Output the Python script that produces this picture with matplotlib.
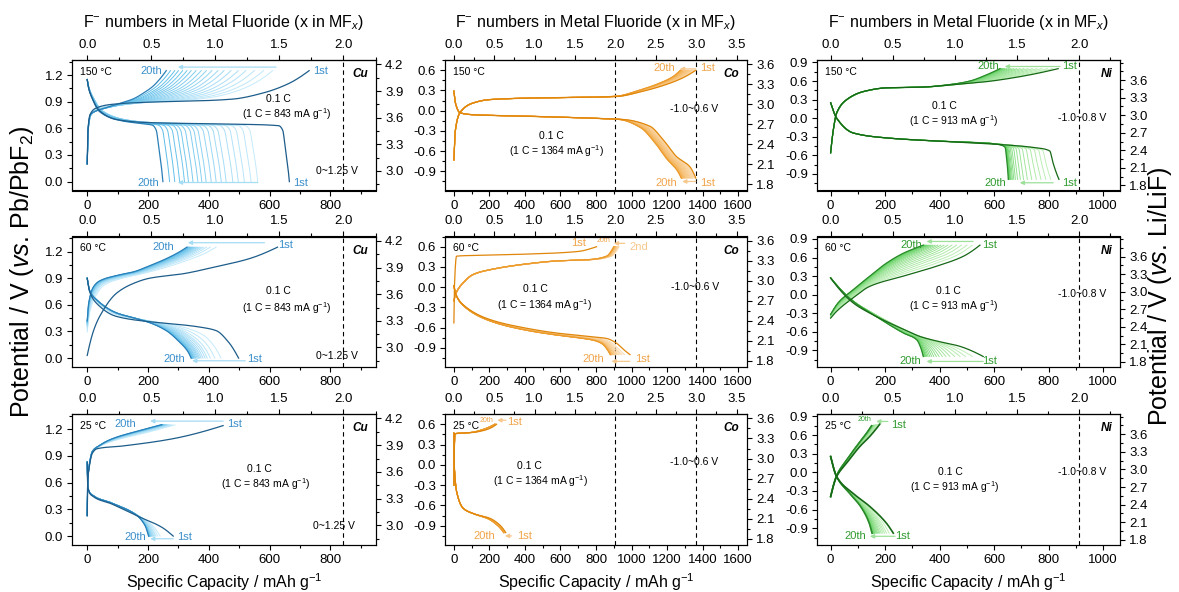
import numpy as np
import matplotlib
matplotlib.use("Agg")
import matplotlib.pyplot as plt
from matplotlib.ticker import AutoMinorLocator
from matplotlib.colors import to_rgb

plt.rcParams['font.family'] = ['Liberation Sans', 'DejaVu Sans']
plt.rcParams['mathtext.fontset'] = 'custom'
plt.rcParams['mathtext.rm'] = 'Liberation Sans'
plt.rcParams['mathtext.it'] = 'Liberation Sans:italic'
plt.rcParams['mathtext.bf'] = 'Liberation Sans:bold'
plt.rcParams['axes.unicode_minus'] = False

# ---------------- DATA (capacity mAh/g, potential V vs Pb/PbF2) ----------------
# Cu 150 C
cu150_c1_x = [0, 3, 10, 30, 80, 200, 370, 480, 580, 660, 730]
cu150_c1_v = [0.20, 0.60, 0.76, 0.83, 0.87, 0.895, 0.91, 0.93, 1.00, 1.10, 1.25]
cu150_c20_x = [0, 3, 10, 25, 50, 95, 150, 195, 215, 235, 260]
cu150_c20_v = [0.20, 0.60, 0.75, 0.79, 0.82, 0.87, 0.93, 1.02, 1.07, 1.14, 1.25]
cu150_d1_x = [0, 5, 15, 40, 95, 200, 480, 630, 643, 651, 659, 665]
cu150_d1_v = [1.15, 1.05, 0.95, 0.80, 0.70, 0.665, 0.647, 0.63, 0.58, 0.40, 0.20, 0.0]
cu150_d20_x = [0, 5, 15, 40, 95, 140, 180, 215, 227, 235, 243, 249]
cu150_d20_v = [1.15, 1.05, 0.95, 0.79, 0.70, 0.67, 0.655, 0.635, 0.58, 0.40, 0.20, 0.0]
cu150_chg_end = [730, 610, 580, 550, 522, 497, 473, 450, 430, 410, 392, 375, 358, 342, 328, 314, 300, 288, 274, 260]
cu150_dis_end = [665, 561, 539, 517, 497, 479, 457, 441, 424, 408, 391, 377, 364, 348, 333, 320, 304, 288, 271, 249]

# Cu 60 C
cu60_c1_x = [0, 20, 41, 96, 151, 205, 315, 424, 533, 626]
cu60_c1_v = [0.03, 0.30, 0.47, 0.73, 0.84, 0.90, 0.95, 1.03, 1.12, 1.25]
cu60_c20_x = [0, 5, 20, 41, 96, 151, 205, 260, 300, 328]
cu60_c20_v = [0.42, 0.62, 0.80, 0.87, 0.93, 0.97, 1.04, 1.12, 1.19, 1.25]
cu60_d1_x = [0, 8, 30, 96, 205, 300, 370, 424, 465, 498]
cu60_d1_v = [0.90, 0.75, 0.62, 0.47, 0.41, 0.38, 0.35, 0.31, 0.18, 0.0]
cu60_d20_x = [0, 8, 30, 96, 151, 205, 260, 304, 330, 342]
cu60_d20_v = [0.90, 0.76, 0.66, 0.51, 0.455, 0.40, 0.31, 0.18, 0.08, 0.0]
cu60_chg_end = [626, 424, 405, 392, 382, 375, 369, 364, 360, 356, 352, 349, 346, 343, 340, 337, 335, 333, 331, 328]
cu60_dis_end = [498, 440, 420, 405, 395, 388, 381, 375, 370, 366, 362, 358, 355, 352, 350, 348, 346, 345, 343, 342]

# Cu 25 C
cu25_c1_x = [0, 1, 2, 6, 17, 32, 114, 278, 447]
cu25_c1_v = [0.23, 0.50, 0.62, 0.76, 0.93, 0.98, 1.01, 1.09, 1.24]
cu25_c20_x = [0, 1, 2, 6, 17, 37, 81, 168, 245]
cu25_c20_v = [0.23, 0.50, 0.62, 0.78, 0.95, 1.01, 1.09, 1.18, 1.25]
cu25_d1_x = [0, 1, 2, 17, 81, 168, 245, 283]
cu25_d1_v = [0.83, 0.65, 0.55, 0.45, 0.36, 0.22, 0.10, 0.0]
cu25_d20_x = [0, 1, 2, 17, 81, 160, 190, 202]
cu25_d20_v = [0.83, 0.65, 0.55, 0.46, 0.37, 0.24, 0.12, 0.0]
cu25_chg_end = [447, 289, 280, 274, 270, 266, 263, 261, 259, 257, 255, 253, 252, 251, 250, 249, 248, 247, 246, 245]
cu25_dis_end = [283, 240, 232, 226, 222, 219, 216, 214, 212, 210, 209, 208, 207, 206, 205, 204, 204, 203, 203, 202]

# Co 150 C
co150_c1_x = [0, 8, 34, 109, 203, 484, 765, 915, 1066, 1197, 1291, 1362]
co150_c1_v = [-0.73, -0.30, -0.03, 0.115, 0.165, 0.19, 0.20, 0.21, 0.29, 0.39, 0.49, 0.60]
co150_c20_x = [0, 8, 34, 109, 203, 484, 765, 915, 1040, 1150, 1230, 1275]
co150_c20_v = [-0.73, -0.30, -0.03, 0.115, 0.165, 0.19, 0.20, 0.215, 0.30, 0.40, 0.50, 0.60]
co150_d1_x = [0, 10, 34, 109, 391, 765, 953, 1103, 1178, 1253, 1328, 1362]
co150_d1_v = [0.29, 0.10, -0.03, -0.06, -0.08, -0.11, -0.13, -0.23, -0.43, -0.68, -0.83, -1.0]
co150_d20_x = [0, 10, 34, 109, 391, 765, 930, 1050, 1130, 1200, 1255, 1280]
co150_d20_v = [0.29, 0.10, -0.03, -0.06, -0.08, -0.11, -0.13, -0.25, -0.47, -0.72, -0.88, -1.0]
co150_chg_end = [1362, 1356, 1350, 1345, 1340, 1335, 1330, 1325, 1320, 1315, 1310, 1305, 1300, 1296, 1292, 1288, 1284, 1280, 1277, 1275]
co150_dis_end = [1362, 1357, 1352, 1347, 1342, 1337, 1332, 1327, 1322, 1317, 1312, 1307, 1302, 1298, 1294, 1290, 1287, 1284, 1282, 1280]

# Co 60 C (1st charge differs in shape from 2nd-20th)
co60_c1_x = [0, 3, 15, 100, 400, 700, 803]
co60_c1_v = [-0.53, 0.0, 0.46, 0.47, 0.49, 0.53, 0.60]
co60_c20_x = [0, 10, 52, 109, 203, 391, 578, 765, 859, 900]
co60_c20_v = [-0.20, -0.10, 0.065, 0.19, 0.26, 0.34, 0.39, 0.41, 0.46, 0.60]
co60_d1_x = [0, 10, 52, 203, 391, 578, 765, 859, 915, 953, 991]
co60_d1_v = [0.02, -0.10, -0.26, -0.48, -0.60, -0.68, -0.73, -0.76, -0.83, -0.92, -1.0]
co60_d20_x = [0, 10, 52, 203, 391, 578, 700, 790, 835, 862, 880]
co60_d20_v = [0.02, -0.10, -0.27, -0.50, -0.63, -0.71, -0.75, -0.79, -0.84, -0.92, -1.0]
co60_chg_end = [803, 930, 926, 923, 920, 918, 916, 914, 912, 911, 910, 909, 908, 907, 906, 905, 904, 903, 902, 900]
co60_dis_end = [991, 960, 945, 935, 925, 918, 912, 906, 902, 898, 895, 892, 890, 888, 886, 884, 883, 882, 881, 880]

# Co 25 C
co25_c1_x = [0, 2, 6, 50, 109, 170, 203, 240]
co25_c1_v = [-0.30, 0.20, 0.46, 0.47, 0.48, 0.51, 0.54, 0.60]
co25_c20_x = [0, 2, 6, 50, 100, 160, 200, 230]
co25_c20_v = [-0.30, 0.20, 0.46, 0.47, 0.48, 0.52, 0.56, 0.60]
co25_d1_x = [0, 1, 4, 15, 52, 109, 203, 259, 287, 292]
co25_d1_v = [0.47, 0.10, -0.10, -0.39, -0.64, -0.72, -0.79, -0.89, -0.98, -1.0]
co25_d20_x = [0, 1, 4, 15, 52, 109, 195, 248, 275, 280]
co25_d20_v = [0.47, 0.10, -0.10, -0.39, -0.64, -0.72, -0.80, -0.90, -0.98, -1.0]
co25_chg_end = [240, 238, 237, 236, 235, 234, 234, 233, 233, 232, 232, 231, 231, 231, 230, 230, 230, 230, 230, 230]
co25_dis_end = [292, 291, 290, 289, 288, 287, 286, 286, 285, 284, 284, 283, 283, 282, 282, 281, 281, 281, 280, 280]

# Ni 150 C
ni150_c1_x = [0, 10, 22, 59, 120, 205, 328, 450, 572, 694, 835]
ni150_c1_v = [-0.56, -0.185, 0.083, 0.30, 0.43, 0.49, 0.50, 0.54, 0.59, 0.67, 0.80]
ni150_c20_x = [0, 10, 22, 59, 120, 205, 328, 450, 511, 572, 621]
ni150_c20_v = [-0.56, -0.185, 0.083, 0.30, 0.43, 0.49, 0.50, 0.55, 0.60, 0.70, 0.80]
ni150_d1_x = [0, 22, 83, 205, 389, 633, 755, 804, 816, 828, 838]
ni150_d1_v = [0.25, 0.0, -0.24, -0.32, -0.37, -0.43, -0.48, -0.53, -0.72, -0.88, -0.99]
ni150_d20_x = [0, 22, 83, 205, 389, 560, 609, 640, 646, 650, 652]
ni150_d20_v = [0.25, 0.0, -0.24, -0.32, -0.37, -0.40, -0.42, -0.47, -0.66, -0.85, -0.99]
ni150_chg_end = [835, 815, 795, 775, 757, 740, 724, 709, 695, 683, 672, 662, 653, 645, 639, 634, 630, 627, 624, 621]
ni150_dis_end = [838, 808, 790, 772, 755, 738, 722, 708, 696, 686, 678, 672, 667, 663, 660, 658, 656, 655, 654, 652]

# Ni 60 C
ni60_c1_x = [0, 22, 83, 144, 267, 389, 487, 548]
ni60_c1_v = [-0.38, -0.27, -0.05, 0.135, 0.30, 0.46, 0.62, 0.80]
ni60_c20_x = [0, 30, 83, 144, 205, 267, 310, 340]
ni60_c20_v = [-0.32, -0.12, 0.08, 0.30, 0.51, 0.67, 0.75, 0.80]
ni60_d1_x = [0, 83, 144, 267, 330, 389, 470, 560]
ni60_d1_v = [0.27, -0.135, -0.30, -0.56, -0.68, -0.75, -0.83, -1.0]
ni60_d20_x = [0, 83, 144, 205, 267, 316, 330, 340]
ni60_d20_v = [0.27, -0.11, -0.29, -0.46, -0.62, -0.73, -0.85, -1.0]
ni60_chg_end = [548, 520, 500, 480, 462, 445, 430, 416, 404, 393, 383, 375, 368, 362, 357, 352, 348, 345, 342, 340]
ni60_dis_end = [560, 520, 495, 475, 455, 438, 423, 410, 398, 388, 379, 371, 364, 358, 353, 349, 346, 343, 341, 340]

# Ni 25 C
ni25_c1_x = [0, 22, 59, 108, 144, 181]
ni25_c1_v = [-0.39, -0.07, 0.15, 0.42, 0.58, 0.78]
ni25_c20_x = [0, 22, 59, 100, 130, 150]
ni25_c20_v = [-0.39, -0.05, 0.20, 0.45, 0.62, 0.75]
ni25_d1_x = [0, 22, 83, 144, 205, 230]
ni25_d1_v = [0.255, -0.07, -0.34, -0.55, -0.82, -0.98]
ni25_d20_x = [0, 22, 70, 110, 140, 152]
ni25_d20_v = [0.255, -0.07, -0.34, -0.55, -0.80, -0.98]
ni25_chg_end = [181, 176, 172, 169, 166, 164, 162, 160, 158, 157, 156, 155, 154, 153, 152, 152, 151, 151, 150, 150]
ni25_dis_end = [230, 215, 205, 198, 192, 186, 181, 177, 173, 170, 167, 164, 162, 160, 158, 156, 155, 154, 153, 152]

metals = ['Cu', 'Co', 'Ni']
temps = ['150 °C', '60 °C', '25 °C']
theo_capacity = [843, 1364, 913]          # 1 C values, mAh/g
max_fluoride = [2.0, 3.0, 2.0]
voltage_window = ['0~1.25 V', '-1.0~0.6 V', '-1.0~0.8 V']

# ---------------- helpers ----------------
def pchip(x, y, xn):
    x = np.asarray(x, float); y = np.asarray(y, float)
    h = np.diff(x); d = np.diff(y) / h
    n = len(x)
    m = np.zeros(n)
    for i in range(1, n - 1):
        if d[i - 1] * d[i] > 0:
            w1 = 2 * h[i] + h[i - 1]; w2 = h[i] + 2 * h[i - 1]
            m[i] = (w1 + w2) / (w1 / d[i - 1] + w2 / d[i])

    def end(h0, h1, d0, d1):
        s = ((2 * h0 + h1) * d0 - h0 * d1) / (h0 + h1)
        if np.sign(s) != np.sign(d0):
            s = 0.0
        elif np.sign(d0) != np.sign(d1) and abs(s) > 3 * abs(d0):
            s = 3 * d0
        return s
    if n > 2:
        m[0] = end(h[0], h[1], d[0], d[1])
        m[-1] = end(h[-1], h[-2], d[-1], d[-2])
    else:
        m[0] = m[-1] = d[0]
    idx = np.clip(np.searchsorted(x, xn) - 1, 0, n - 2)
    t = (xn - x[idx]) / h[idx]
    h00 = 2 * t**3 - 3 * t**2 + 1
    h10 = t**3 - 2 * t**2 + t
    h01 = -2 * t**3 + 3 * t**2
    h11 = t**3 - t**2
    return h00 * y[idx] + h10 * h[idx] * m[idx] + h01 * y[idx + 1] + h11 * h[idx] * m[idx + 1]


SGRID = np.unique(np.concatenate([np.linspace(0, 0.03, 150), np.linspace(0.03, 0.95, 500),
                                  np.linspace(0.95, 1, 150)]))


def cycles(c1x, c1v, c20x, c20v, ends, distinct=False):
    E1, E20 = ends[0], ends[-1]
    s1 = np.array(c1x, float) / c1x[-1]
    s20 = np.array(c20x, float) / c20x[-1]
    v1 = np.array(c1v, float); v20 = np.array(c20v, float)
    out = []
    for k, E in enumerate(ends):
        if k == 0:
            sx, sv = s1, v1
        elif k == len(ends) - 1 or distinct:
            sx, sv = s20, v20
        else:
            w = np.clip((E1 - E) / (E1 - E20), 0, 1) if E1 != E20 else k / (len(ends) - 1)
            sx = (1 - w) * s1 + w * s20
            sv = (1 - w) * v1 + w * v20
        out.append((SGRID * E, pchip(sx, sv, SGRID)))
    return out


def mix(c1, c2, t):
    a = np.array(to_rgb(c1)); b = np.array(to_rgb(c2))
    return tuple(a + (b - a) * t)


def fmt(vals):
    return [f'{(round(v, 1) + 0.0):.1f}' for v in vals]


palette = {
    'Cu': dict(first='#1d5d8b', last='#2a7fb8', light='#c4eafb', mid='#5dbde9', label='#3a8fcb', arrow='#a6dcf4'),
    'Co': dict(first='#e0860a', last='#ec9a2a', light='#fbd9ab', mid='#f3ae4c', label='#f0a44a', arrow='#f7c88e'),
    'Ni': dict(first='#166816', last='#2a8a2a', light='#c0f0b8', mid='#5fcf5f', label='#2f9a2f', arrow='#9ee09a'),
}

panel_data = {
    ('Cu', 0): (cu150_c1_x, cu150_c1_v, cu150_c20_x, cu150_c20_v, cu150_chg_end,
                cu150_d1_x, cu150_d1_v, cu150_d20_x, cu150_d20_v, cu150_dis_end, False),
    ('Cu', 1): (cu60_c1_x, cu60_c1_v, cu60_c20_x, cu60_c20_v, cu60_chg_end,
                cu60_d1_x, cu60_d1_v, cu60_d20_x, cu60_d20_v, cu60_dis_end, False),
    ('Cu', 2): (cu25_c1_x, cu25_c1_v, cu25_c20_x, cu25_c20_v, cu25_chg_end,
                cu25_d1_x, cu25_d1_v, cu25_d20_x, cu25_d20_v, cu25_dis_end, False),
    ('Co', 0): (co150_c1_x, co150_c1_v, co150_c20_x, co150_c20_v, co150_chg_end,
                co150_d1_x, co150_d1_v, co150_d20_x, co150_d20_v, co150_dis_end, False),
    ('Co', 1): (co60_c1_x, co60_c1_v, co60_c20_x, co60_c20_v, co60_chg_end,
                co60_d1_x, co60_d1_v, co60_d20_x, co60_d20_v, co60_dis_end, True),
    ('Co', 2): (co25_c1_x, co25_c1_v, co25_c20_x, co25_c20_v, co25_chg_end,
                co25_d1_x, co25_d1_v, co25_d20_x, co25_d20_v, co25_dis_end, False),
    ('Ni', 0): (ni150_c1_x, ni150_c1_v, ni150_c20_x, ni150_c20_v, ni150_chg_end,
                ni150_d1_x, ni150_d1_v, ni150_d20_x, ni150_d20_v, ni150_dis_end, False),
    ('Ni', 1): (ni60_c1_x, ni60_c1_v, ni60_c20_x, ni60_c20_v, ni60_chg_end,
                ni60_d1_x, ni60_d1_v, ni60_d20_x, ni60_d20_v, ni60_dis_end, False),
    ('Ni', 2): (ni25_c1_x, ni25_c1_v, ni25_c20_x, ni25_c20_v, ni25_chg_end,
                ni25_d1_x, ni25_d1_v, ni25_d20_x, ni25_d20_v, ni25_dis_end, False),
}

# ---------------- layout ----------------
W, H = 1179, 592
fig = plt.figure(figsize=(W / 100, H / 100), dpi=100)
col_px = [(72, 376), (445, 747), (817, 1120)]
row_px = [(60, 190.5), (236.5, 367), (414, 545)]

xlims = {'Cu': (-50, 950), 'Co': (-50, 1650), 'Ni': (-50, 1062)}
xmax_tick = {'Cu': 800, 'Co': 1600, 'Ni': 1000}
top_ticks = {'Cu': np.arange(0, 2.01, 0.5), 'Co': np.arange(0, 3.51, 0.5), 'Ni': np.arange(0, 2.01, 0.5)}
ylims = {'Cu': (-0.10, 1.37), 'Co': (-1.184, 0.752), 'Ni': (-1.17, 0.94)}
yticks = {'Cu': np.arange(0, 1.21, 0.3), 'Co': np.arange(-0.9, 0.61, 0.3), 'Ni': np.arange(-0.9, 0.91, 0.3)}
rlims = {'Cu': (2.78, 4.25), 'Co': (1.71, 3.665), 'Ni': (1.714, 3.943)}
rticks = {'Cu': np.arange(3.0, 4.21, 0.3), 'Co': np.arange(1.8, 3.61, 0.3), 'Ni': np.arange(1.8, 3.61, 0.3)}

text_pos = {
    ('Cu', 0): [(0.679, 0.70), (0.706, 0.585), (0.871, 0.148)],
    ('Cu', 1): [(0.679, 0.579), (0.706, 0.454), (0.871, 0.085)],
    ('Cu', 2): [(0.618, 0.578), (0.637, 0.463), (0.86, 0.145)],
    ('Co', 0): [(0.354, 0.418), (0.370, 0.302), (0.826, 0.623)],
    ('Co', 1): [(0.298, 0.60), (0.331, 0.477), (0.828, 0.613)],
    ('Co', 2): [(0.281, 0.603), (0.315, 0.49), (0.826, 0.63)],
    ('Ni', 0): [(0.422, 0.648), (0.45, 0.533), (0.874, 0.559)],
    ('Ni', 1): [(0.433, 0.585), (0.45, 0.464), (0.874, 0.559)],
    ('Ni', 2): [(0.439, 0.56), (0.455, 0.445), (0.874, 0.56)],
}

cyc_labels = {
    ('Cu', 0): [('20th', 211, 1.245, 8), ('1st', 768, 1.245, 8), ('20th', 200, -0.01, 8), ('1st', 703, -0.01, 8)],
    ('Cu', 1): [('20th', 249, 1.25, 8), ('1st', 654, 1.27, 8), ('20th', 288, -0.01, 8), ('1st', 550, -0.01, 8)],
    ('Cu', 2): [('20th', 125, 1.256, 8), ('1st', 485, 1.256, 8), ('20th', 157, -0.01, 8), ('1st', 321, -0.01, 8)],
    ('Co', 0): [('20th', 1187, 0.635, 8), ('1st', 1426, 0.635, 8), ('20th', 1197, -1.07, 8), ('1st', 1426, -1.07, 8)],
    ('Co', 1): [('1st', 700, 0.65, 8), ('20th', 840, 0.69, 5), ('20th', 784, -1.07, 8), ('1st', 1060, -1.07, 8)],
    ('Co', 2): [('20th', 184, 0.66, 5), ('1st', 343, 0.64, 8), ('20th', 174, -1.05, 8), ('1st', 400, -1.05, 8)],
    ('Ni', 0): [('20th', 578, 0.835, 8), ('1st', 878, 0.835, 8), ('20th', 603, -1.045, 8), ('1st', 878, -1.045, 8)],
    ('Ni', 1): [('20th', 297, 0.81, 8), ('1st', 584, 0.81, 8), ('20th', 291, -1.08, 8), ('1st', 584, -1.08, 8)],
    ('Ni', 2): [('20th', 126, 0.85, 5), ('1st', 248, 0.77, 8), ('20th', 89, -1.03, 8), ('1st', 264, -1.03, 8)],
}
cyc_arrows = {
    ('Cu', 0): [(621, 298, 1.29), (561, 298, -0.01)],
    ('Cu', 1): [(583, 331, 1.30), (520, 345, -0.03)],
    ('Cu', 2): [(447, 207, 1.29), (283, 207, -0.03)],
    ('Co', 0): [(1362, 1272, 0.62), (1362, 1285, -1.05)],
    ('Co', 1): [(962, 900, 0.65), (990, 887, -1.10)],
    ('Co', 2): [(293, 244, 0.66), (325, 287, -1.05)],
    ('Ni', 0): [(842, 639, 0.835), (817, 694, -1.045)],
    ('Ni', 1): [(523, 352, 0.86), (560, 352, -1.08)],
    ('Ni', 2): [(210, 167, 0.82), (236, 144, -1.03)],
}

TICK_FS = 9.5
for ci, metal in enumerate(metals):
    pal = palette[metal]
    ref = theo_capacity[ci] / max_fluoride[ci]
    for ri in range(3):
        x0, x1 = col_px[ci]
        y0, y1 = row_px[ri]
        ax = fig.add_axes([x0 / W, 1 - y1 / H, (x1 - x0) / W, (y1 - y0) / H])
        (c1x, c1v, c20x, c20v, cend, d1x, d1v, d20x, d20v, dend, distinct) = panel_data[(metal, ri)]
        lw_main = 1.2 if (metal == 'Ni' and ri == 2) else 0.9
        for curves in (cycles(c1x, c1v, c20x, c20v, cend, distinct),
                       cycles(d1x, d1v, d20x, d20v, dend, False)):
            n = len(curves)
            for k in range(1, n - 1):
                t = (k - 1) / max(n - 3, 1)
                ax.plot(curves[k][0], curves[k][1], color=mix(pal['light'], pal['mid'], t), lw=0.7, zorder=2)
            ax.plot(curves[-1][0], curves[-1][1], color=pal['last'], lw=lw_main, zorder=3)
            ax.plot(curves[0][0], curves[0][1], color=pal['first'], lw=lw_main, zorder=4)

        ax.axvline(theo_capacity[ci] * 2.0 / max_fluoride[ci], color='k', ls=(0, (4, 3)), lw=0.8, zorder=1)
        if metal == 'Co':
            ax.axvline(theo_capacity[ci], color='k', ls=(0, (4, 3)), lw=0.8, zorder=1)

        ax.set_xlim(*xlims[metal])
        ax.set_ylim(*ylims[metal])
        ax.set_xticks(np.arange(0, xmax_tick[metal] + 1, 200))
        ax.xaxis.set_minor_locator(AutoMinorLocator(2))
        ax.set_yticks(yticks[metal])
        ax.set_yticklabels(fmt(yticks[metal]))
        ax.yaxis.set_minor_locator(AutoMinorLocator(2))
        ax.tick_params(which='both', direction='out', labelsize=TICK_FS, pad=3, width=0.8)
        ax.tick_params(which='major', length=3.5)
        ax.tick_params(which='minor', length=2)
        for sp in ax.spines.values():
            sp.set_linewidth(0.8)

        sec = ax.secondary_xaxis('top', functions=(lambda x, r=ref: x / r, lambda x, r=ref: x * r))
        sec.set_xticks(top_ticks[metal])
        sec.set_xticklabels(fmt(top_ticks[metal]))
        sec.xaxis.set_minor_locator(AutoMinorLocator(2))
        sec.tick_params(which='both', direction='out', labelsize=TICK_FS, pad=3, width=0.8)
        sec.tick_params(which='major', length=3.5)
        sec.tick_params(which='minor', length=2)

        tw = ax.twinx()
        tw.set_ylim(*rlims[metal])
        tw.set_yticks(rticks[metal])
        tw.set_yticklabels(fmt(rticks[metal]))
        tw.yaxis.set_minor_locator(AutoMinorLocator(2))
        tw.tick_params(which='both', direction='out', labelsize=TICK_FS, pad=3, width=0.8)
        tw.tick_params(which='major', length=3.5)
        tw.tick_params(which='minor', length=2)
        for sp in tw.spines.values():
            sp.set_linewidth(0.8)

        ax.text(0.025, 0.91, temps[ri], transform=ax.transAxes, fontsize=7.5, ha='left', va='center')
        ax.text(0.975, 0.89, metal, transform=ax.transAxes, fontsize=8.5, ha='right', va='center',
                fontweight='bold', fontstyle='italic')
        (rx, ry), (sx_, sy_), (vx, vy) = text_pos[(metal, ri)]
        ax.text(rx, ry, '0.1 C', transform=ax.transAxes, fontsize=7.5, ha='center', va='center')
        ax.text(sx_, sy_, f'(1 C = {theo_capacity[ci]} mA g$^{{-1}}$)', transform=ax.transAxes,
                fontsize=7.5, ha='center', va='center')
        ax.text(vx, vy, voltage_window[ci], transform=ax.transAxes, fontsize=7.5, ha='center', va='center')

        for (xf, xt, ya) in cyc_arrows[(metal, ri)]:
            ax.annotate('', xy=(xt, ya), xytext=(xf, ya),
                        arrowprops=dict(arrowstyle='-|>', color=pal['arrow'], lw=0.9,
                                        mutation_scale=6, shrinkA=0, shrinkB=0), zorder=5)
        for (txt, lx, ly, fs) in cyc_labels[(metal, ri)]:
            ax.text(lx, ly, txt, fontsize=fs, color=pal['label'], ha='center', va='center', zorder=6)
        if (metal, ri) == ('Co', 1):
            ax.text(1041, 0.60, '2nd', fontsize=8, color=pal['arrow'], ha='center', va='center', zorder=6)

        if ri == 0:
            fig.text((x0 + x1) / 2 / W, 1 - 23 / H, 'F$^{-}$ numbers in Metal Fluoride (x in MF$_{x}$)',
                     ha='center', va='center', fontsize=11.5)
        if ri == 2:
            fig.text((x0 + x1) / 2 / W, 1 - 582.5 / H, 'Specific Capacity / mAh g$^{-1}$',
                     ha='center', va='center', fontsize=11.5)

fig.text(22 / W, 1 - 272 / H, r'Potential / V ($\mathit{vs.}\,$Pb/PbF$_{2}$)', rotation=90,
         ha='center', va='center', fontsize=18)
fig.text(1160 / W, 1 - 296 / H, r'Potential / V ($\mathit{vs.}\,$Li/LiF)', rotation=90,
         ha='center', va='center', fontsize=18)

fig.savefig('out.png', dpi=100)
